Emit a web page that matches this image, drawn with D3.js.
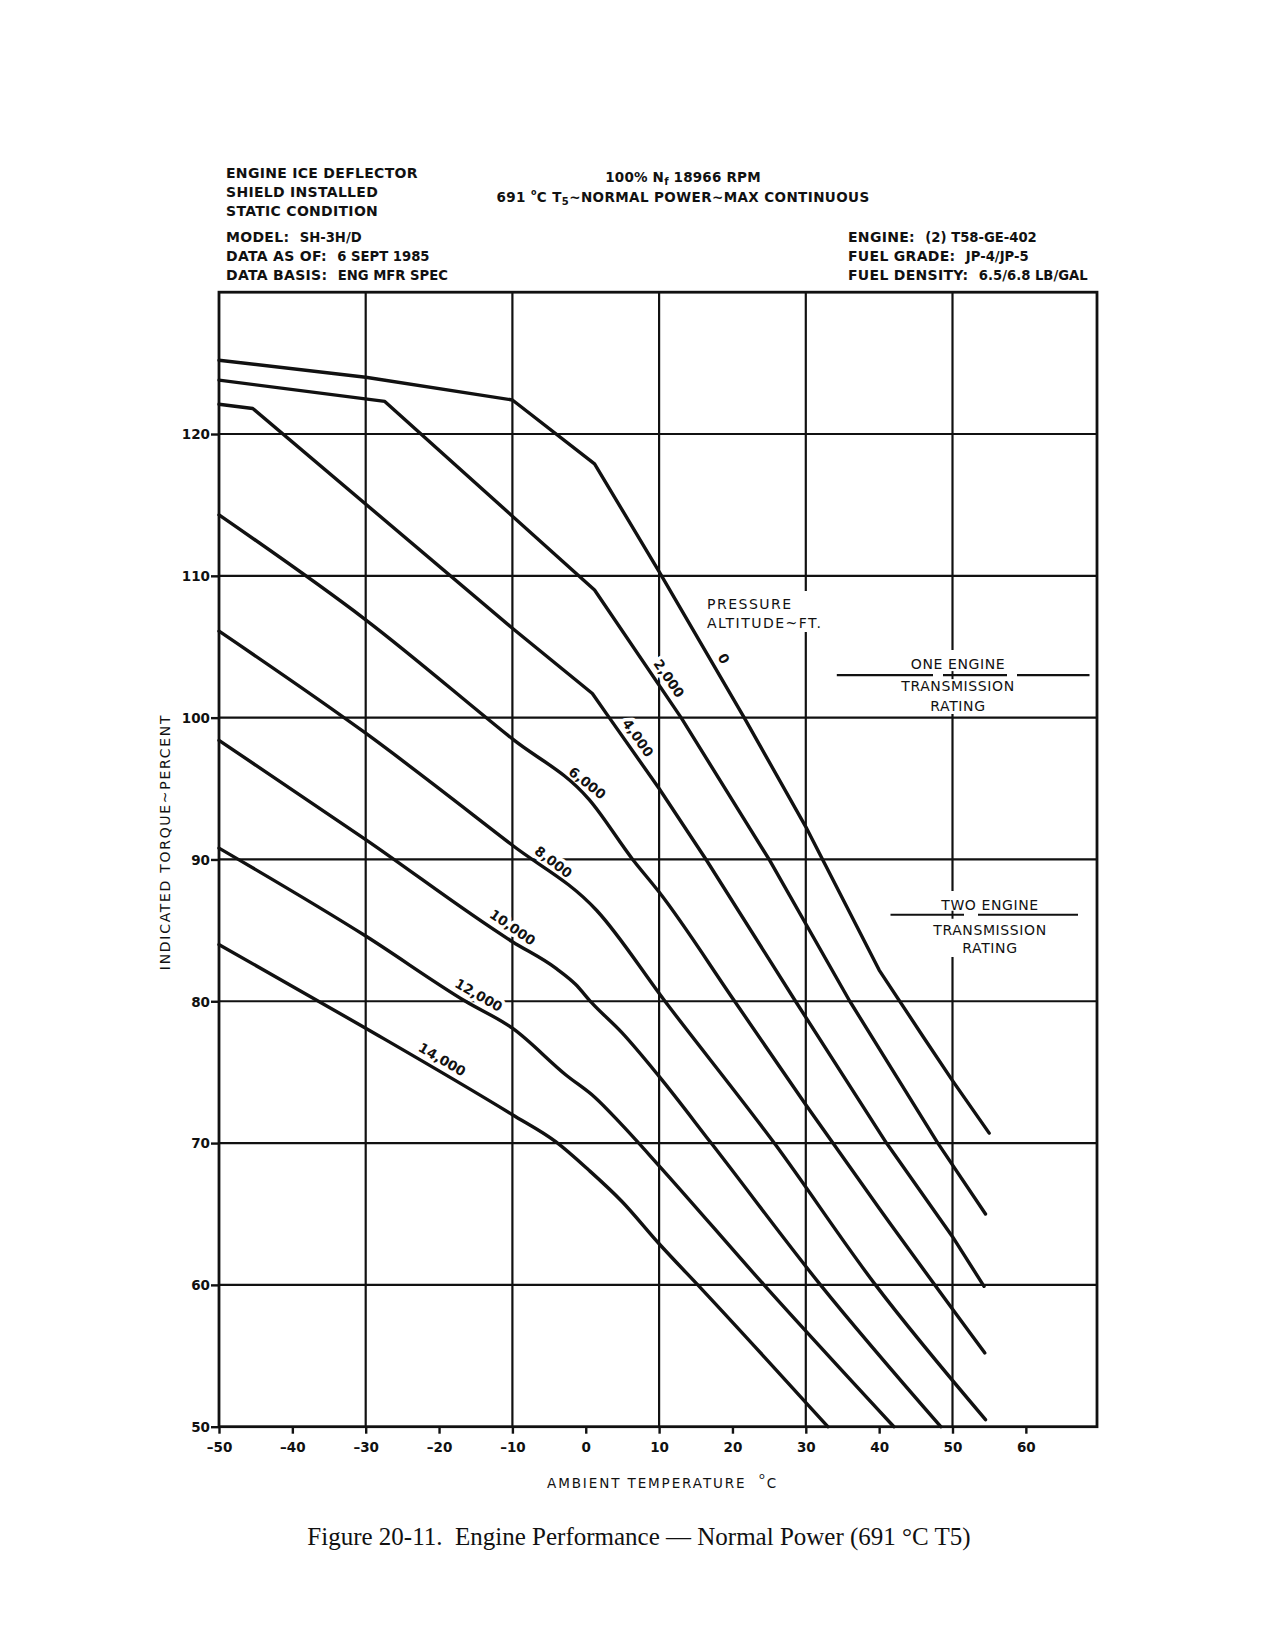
<!DOCTYPE html>
<html>
<head>
<meta charset="utf-8">
<script src="https://cdnjs.cloudflare.com/ajax/libs/d3/7.8.5/d3.min.js"></script>
<style>
  body { margin: 0; background: #fff; }
  svg { display: block; }
  .hdr { font-family: "DejaVu Sans", sans-serif; font-weight: bold; fill: #111; }
</style>
</head>
<body>
<svg id="chart" width="1275" height="1650"></svg>
<script>
// axis ticks
const tempTicks = [-50, -40, -30, -20, -10, 0, 10, 20, 30, 40, 50, 60];
const torqueTicks = [50, 60, 70, 80, 90, 100, 110, 120];
const gridTemps = [-30, -10, 10, 30, 50];
const gridTorques = [60, 70, 80, 90, 100, 110, 120];

// pressure altitude curves, [ambient temp degC, indicated torque %]
const alt0 = [[-50, 125.2], [-30, 124.0], [-10, 122.4], [1.2, 117.9], [10, 110.3], [21.6, 100], [30, 92.3], [40, 82.2], [46, 77.5], [50, 74.4], [55, 70.7]];
const alt2000 = [[-50, 123.8], [-27.4, 122.3], [1.2, 109.0], [13, 100], [25, 90], [36, 80], [48, 70], [54.5, 65]];
const alt4000 = [[-50, 122.1], [-45.4, 121.8], [-10, 106.3], [0.9, 101.7], [3.2, 100], [10, 95], [16.4, 90], [28.6, 80], [41, 70], [50, 63.4], [54.3, 59.9]];
const alt6000 = [[-50, 114.3], [-30, 106.9], [-10, 98.5], [0.5, 94.2], [6.4, 90], [10, 87.7], [20.3, 80], [30, 72.7], [40, 65.4], [54.4, 55.2]];
const alt8000 = [[-50, 106.1], [-30, 98.9], [-10, 91.0], [1.5, 86.4], [10.8, 80], [25.7, 70], [39.5, 60], [54.5, 50.5]];
const alt10000 = [[-50, 98.4], [-30, 91.4], [-10, 84.2], [-4, 82.3], [-1.4, 81.2], [0.8, 79.9], [4.9, 77.8], [10, 74.7], [17.1, 70], [32, 60], [48.4, 50]];
const alt12000 = [[-50, 90.8], [-30, 84.6], [-16.4, 80], [-10, 78.1], [-2.7, 74.8], [1.3, 73.2], [4.9, 71.3], [10, 68.4], [24.3, 60], [42, 50]];
const alt14000 = [[-50, 84.0], [-30, 78.1], [-10, 72.0], [-4.1, 70.1], [0.4, 68.1], [4.9, 65.9], [10, 62.9], [16, 59.6], [33, 50]];

const altitudeNames = ['0', '2,000', '4,000', '6,000', '8,000', '10,000', '12,000', '14,000'];
const altitudeCurves = [alt0, alt2000, alt4000, alt6000, alt8000, alt10000, alt12000, alt14000];
const labelTemps = [17.4, 10.0, 5.8, -0.8, -5.4, -10.9, -15.4, -20.4];
const sharpCurves = ['0', '2,000', '4,000'];

// transmission rating limits (% torque)
const ratingNames = [['ONE ENGINE', 'TRANSMISSION', 'RATING'], ['TWO ENGINE', 'TRANSMISSION', 'RATING']];
const ratingTorques = [103.0, 86.1];

const svg = d3.select('#chart');
svg.append('rect').attr('width', 1275).attr('height', 1650).attr('fill', '#fff');

const x = d3.scaleLinear().domain([-50, 69.7]).range([219, 1097]);
const y = d3.scaleLinear().domain([50, 130]).range([1426.7, 292.2]);

const plot = svg.append('g');

// grid
plot.append('g').selectAll('line').data(gridTemps).join('line')
    .attr('x1', d => x(d)).attr('x2', d => x(d))
    .attr('y1', y(130)).attr('y2', y(50))
    .attr('stroke', '#111').attr('stroke-width', 2.2);
plot.append('g').selectAll('line').data(gridTorques).join('line')
    .attr('x1', x(-50)).attr('x2', x(69.7))
    .attr('y1', d => y(d)).attr('y2', d => y(d))
    .attr('stroke', '#111').attr('stroke-width', 2.2);

// white boxes where notes interrupt the grid
const masks = [
    [703, 591, 128, 41],     // pressure altitude note
    [900, 650, 120, 64],     // one engine
    [925, 891, 125, 66]      // two engine
];
plot.append('g').selectAll('rect').data(masks).join('rect')
    .attr('x', d => d[0]).attr('y', d => d[1]).attr('width', d => d[2]).attr('height', d => d[3])
    .attr('fill', '#fff');

// frame
plot.append('rect')
    .attr('x', x(-50)).attr('y', y(130))
    .attr('width', x(69.7) - x(-50)).attr('height', y(50) - y(130))
    .attr('fill', 'none').attr('stroke', '#111').attr('stroke-width', 2.8);

// axes
const fmtTemp = d => d < 0 ? '\u2013' + (-d) : String(d);
const xAxis = svg.append('g').attr('transform', `translate(0,${y(50)})`)
    .call(d3.axisBottom(x).tickValues(tempTicks).tickSize(7).tickFormat(fmtTemp));
const yAxis = svg.append('g').attr('transform', `translate(${x(-50)},0)`)
    .call(d3.axisLeft(y).tickValues(torqueTicks).tickSize(8));
[xAxis, yAxis].forEach(a => {
    a.select('.domain').remove();
    a.selectAll('.tick line').attr('stroke', '#111').attr('stroke-width', 2.4);
    a.selectAll('.tick text')
        .attr('fill', '#111')
        .style('font-family', '"DejaVu Sans", sans-serif')
        .style('font-size', '13.5px')
        .style('font-weight', 'bold');
});
xAxis.selectAll('.tick text').attr('y', 25).attr('dy', 0);
yAxis.selectAll('.tick text').attr('x', -9).attr('dy', '0.36em');

// curve labels with white halo
const labels = svg.append('g');
altitudeCurves.forEach((pts, i) => {
    const t = labelTemps[i];
    let k = pts.findIndex(p => p[0] > t);
    if (k < 1) k = 1;
    const a = pts[k - 1], b = pts[k];
    const ax = x(a[0]), ay = y(a[1]), bx = x(b[0]), by = y(b[1]);
    const f = (t - a[0]) / (b[0] - a[0]);
    const px = ax + f * (bx - ax), py = ay + f * (by - ay);
    const ang = Math.atan2(by - ay, bx - ax);
    const off = 12;
    const cx = px + off * Math.sin(ang), cy = py - off * Math.cos(ang);
    labels.append('text')
        .attr('transform', `translate(${cx},${cy}) rotate(${ang * 180 / Math.PI})`)
        .attr('text-anchor', 'middle')
        .attr('dy', '0.36em')
        .attr('font-family', '"DejaVu Sans", sans-serif')
        .attr('font-size', 13.5)
        .attr('font-weight', 'bold')
        .attr('fill', '#111')
        .attr('stroke', '#fff').attr('stroke-width', 7)
        .attr('stroke-linejoin', 'round')
        .attr('paint-order', 'stroke')
        .text(altitudeNames[i]);
});

// curves
const curves = svg.append('g');
altitudeCurves.forEach((pts, i) => {
    const line = d3.line()
        .x(d => x(d[0])).y(d => y(d[1]))
        .curve(sharpCurves.includes(altitudeNames[i]) ? d3.curveLinear : d3.curveMonotoneX);
    curves.append('path')
        .attr('d', line(pts))
        .attr('fill', 'none').attr('stroke', '#111').attr('stroke-width', 3.4)
        .attr('stroke-linejoin', 'round').attr('stroke-linecap', 'round');
});

// transmission rating lines
const ratingSpans = [
    [[836.8, 933], [943, 1007], [1017, 1089.5]],
    [[890.5, 964], [978, 1078]]
];
const ratingCenters = [958, 990];
ratingTorques.forEach((q, i) => {
    const g = svg.append('g');
    ratingSpans[i].forEach(s => {
        g.append('line').attr('x1', s[0]).attr('x2', s[1]).attr('y1', y(q)).attr('y2', y(q))
            .attr('stroke', '#111').attr('stroke-width', 2.2);
    });
    g.append('line').attr('x1', x(50)).attr('x2', x(50)).attr('y1', y(q) - 4).attr('y2', y(q) + 4)
        .attr('stroke', '#111').attr('stroke-width', 2);
    const base = y(q);
    const offs = i === 0 ? [-6, 16, 35.7] : [-5, 20, 38.7];
    ratingNames[i].forEach((s, j) => {
        g.append('text')
            .attr('x', ratingCenters[i]).attr('y', base + offs[j])
            .attr('text-anchor', 'middle')
            .attr('font-family', '"DejaVu Sans", sans-serif')
            .attr('font-size', 14)
            .attr('letter-spacing', 0.6)
            .attr('fill', '#111')
            .text(s);
    });
});

// pressure altitude note
const note = svg.append('g')
    .attr('font-family', '"DejaVu Sans", sans-serif')
    .attr('font-size', 14).attr('letter-spacing', 1.5).attr('fill', '#111');
note.append('text').attr('x', 707).attr('y', 608.5).text('PRESSURE');
note.append('text').attr('x', 707).attr('y', 628).text('ALTITUDE~FT.');

// axis titles
svg.append('text')
    .attr('transform', 'translate(170,842) rotate(-90)')
    .attr('text-anchor', 'middle')
    .attr('font-family', '"DejaVu Sans", sans-serif')
    .attr('font-size', 14).attr('letter-spacing', 1.7).attr('fill', '#111')
    .text('INDICATED TORQUE~PERCENT');

const xt = svg.append('text')
    .attr('x', 547).attr('y', 1488)
    .attr('font-family', '"DejaVu Sans", sans-serif')
    .attr('font-size', 13.5).attr('letter-spacing', 1.9).attr('fill', '#111')
    .style('white-space', 'pre');
xt.append('tspan').text('AMBIENT TEMPERATURE  ');
xt.append('tspan').attr('dy', -9).attr('font-size', 9.5).text('o');
xt.append('tspan').attr('dy', 9).text('C');

// caption
svg.append('text')
    .attr('x', 639).attr('y', 1545)
    .attr('text-anchor', 'middle')
    .attr('font-family', '"Liberation Serif", "Times New Roman", serif')
    .attr('font-size', 25).attr('fill', '#111')
    .style('white-space', 'pre')
    .text('Figure 20-11.  Engine Performance \u2014 Normal Power (691 \u00B0C T5)');

// header blocks
function headerLine(xp, yp, label, value) {
    const t = svg.append('text').attr('class', 'hdr')
        .attr('x', xp).attr('y', yp)
        .style('white-space', 'pre');
    t.append('tspan').attr('font-size', 14).attr('letter-spacing', 0.3).text(label);
    if (value) t.append('tspan').attr('font-size', 13.2).text(value);
    return t;
}
headerLine(226, 177.7, 'ENGINE ICE DEFLECTOR');
headerLine(226, 196.7, 'SHIELD INSTALLED');
headerLine(226, 216, 'STATIC CONDITION');
headerLine(226, 242, 'MODEL:  ', 'SH-3H/D');
headerLine(226, 261, 'DATA AS OF:  ', '6 SEPT 1985');
headerLine(226, 280, 'DATA BASIS:  ', 'ENG MFR SPEC');

headerLine(848, 242, 'ENGINE:  ', '(2) T58-GE-402');
headerLine(848, 261, 'FUEL GRADE:  ', 'JP-4/JP-5');
headerLine(848, 280, 'FUEL DENSITY:  ', '6.5/6.8 LB/GAL');

const c1 = svg.append('text').attr('class', 'hdr')
    .attr('x', 683).attr('y', 182).attr('text-anchor', 'middle')
    .attr('font-size', 13.5).attr('letter-spacing', 0.2).style('white-space', 'pre');
c1.append('tspan').text('100% N');
c1.append('tspan').attr('dy', 3).attr('font-size', 10).text('f');
c1.append('tspan').attr('dy', -3).text(' 18966 RPM');

const c2 = svg.append('text').attr('class', 'hdr')
    .attr('x', 683).attr('y', 202).attr('text-anchor', 'middle')
    .attr('font-size', 13.5).attr('letter-spacing', 0.4).style('white-space', 'pre');
c2.append('tspan').text('691 ');
c2.append('tspan').attr('dy', -7).attr('font-size', 8).text('o');
c2.append('tspan').attr('dy', 7).text('C T');
c2.append('tspan').attr('dy', 3).attr('font-size', 10).text('5');
c2.append('tspan').attr('dy', -3).text('~NORMAL POWER~MAX CONTINUOUS');
</script>
</body>
</html>
